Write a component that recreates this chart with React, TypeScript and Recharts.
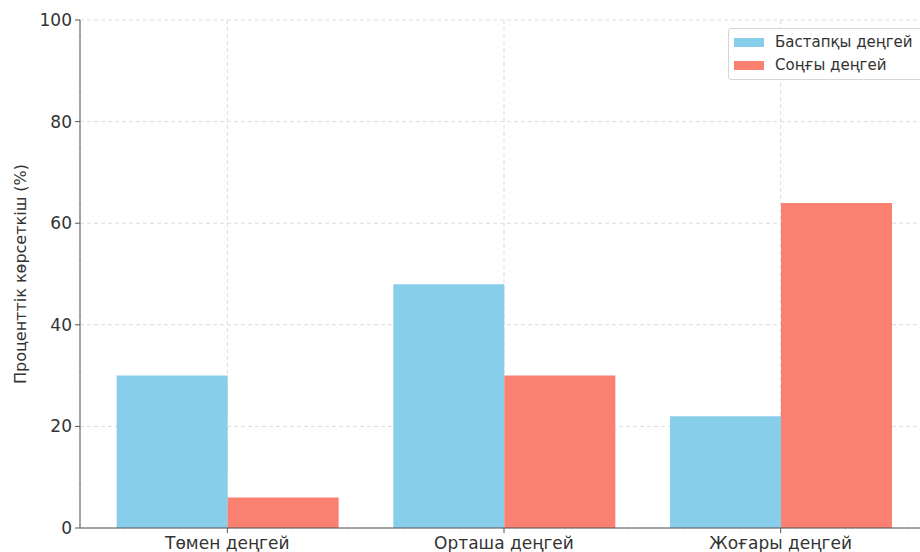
import React from "react";
import {
  BarChart, Bar, XAxis, YAxis, CartesianGrid, Legend, Label,
} from "recharts";

const categories = ["Төмен деңгей", "Орташа деңгей", "Жоғары деңгей"];
const initialLevel = [30, 48, 22];
const finalLevel = [6, 30, 64];
const yTicks = [0, 20, 40, 60, 80, 100];

const BLUE = "#87CEEB";
const SALMON = "#FA8072";
const FONT = "'DejaVu Sans', sans-serif";

const data = categories.map((name, i) => ({
  name,
  initial: initialLevel[i],
  final: finalLevel[i],
}));

const LegendBox = ({ payload }: any) => (
  <div
    style={{
      background: "rgba(255,255,255,0.9)",
      border: "1px solid #d6d6d6",
      borderRadius: 3,
      padding: "2px 8px 2px 5px",
      fontFamily: FONT,
      fontSize: 15,
      color: "#333",
      lineHeight: "23px",
      whiteSpace: "nowrap",
    }}
  >
    {(payload ?? []).map((p: any) => (
      <div key={p.value} style={{ display: "flex", alignItems: "center" }}>
        <span style={{ display: "inline-block", width: 30, height: 9, background: p.color, marginRight: 11 }} />
        {p.value}
      </div>
    ))}
  </div>
);

export default function App() {
  return (
    <div style={{ position: "absolute", left: 0, top: 0, width: 920, height: 552, overflow: "hidden", background: "#fff" }}>
      <BarChart
        width={940}
        height={552}
        data={data}
        margin={{ top: 20, right: 11, bottom: 0, left: 0 }}
        barCategoryGap="10%"
        barGap={0}
      >
        <CartesianGrid stroke="#dcdcdc" strokeDasharray="4 3" />
        <XAxis
          dataKey="name"
          height={24}
          padding={{ left: 9, right: 10 }}
          stroke="#555"
          tickSize={5}
          tickMargin={4}
          tick={{ fill: "#333", fontSize: 17, fontFamily: FONT }}
        />
        <YAxis
          width={80}
          domain={[0, 100]}
          ticks={yTicks}
          stroke="#555"
          tickSize={5}
          tickMargin={3}
          tick={{ fill: "#333", fontSize: 17, fontFamily: FONT }}
        >
          <Label
            value="Проценттік көрсеткіш (%)"
            angle={-90}
            position="center"
            dx={-20}
            style={{ fill: "#333", fontSize: 16, fontFamily: FONT, textAnchor: "middle" }}
          />
        </YAxis>
        <Legend
          layout="vertical"
          align="center"
          verticalAlign="middle"
          content={<LegendBox />}
          wrapperStyle={{ left: 728, top: 28, width: 240, height: 52 }}
        />
        <Bar dataKey="initial" name="Бастапқы деңгей" fill={BLUE} isAnimationActive={false} />
        <Bar dataKey="final" name="Соңғы деңгей" fill={SALMON} isAnimationActive={false} />
      </BarChart>
    </div>
  );
}
